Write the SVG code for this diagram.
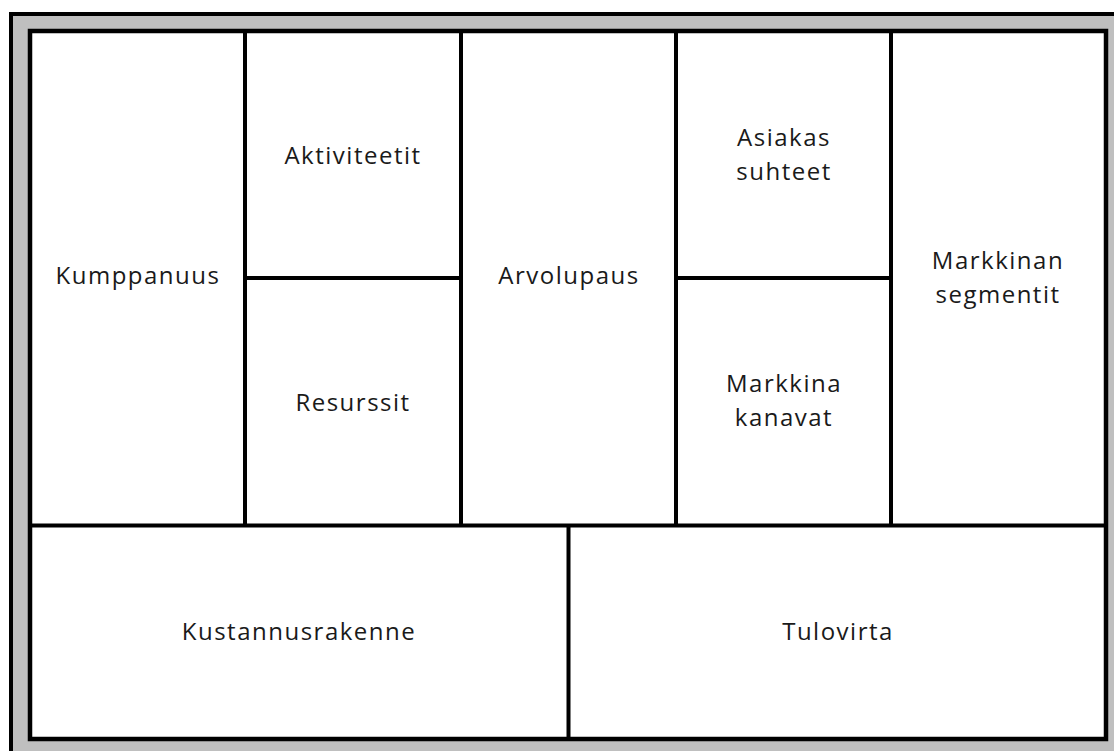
<svg xmlns="http://www.w3.org/2000/svg" width="1114" height="751" viewBox="0 0 1114 751">
<style>
.t{font-family:"Open Sans","Noto Sans",sans-serif;font-size:24px;letter-spacing:1.5px;fill:#1a1a1a;text-anchor:middle}
.l{stroke:#000;stroke-width:4;fill:none}
</style>
<rect x="0" y="0" width="1114" height="751" fill="#fff"/>
<rect x="11" y="14" width="1120" height="760" fill="#bfbfbf" stroke="#000" stroke-width="4"/>
<rect x="30" y="31" width="1076" height="708" fill="#fff" stroke="#000" stroke-width="4.5"/>
<g id="connectors" class="l">
<line x1="30" y1="525.5" x2="1106" y2="525.5"/>
<line x1="245" y1="31" x2="245" y2="525"/>
<line x1="461" y1="31" x2="461" y2="525"/>
<line x1="676" y1="31" x2="676" y2="525"/>
<line x1="891" y1="31" x2="891" y2="525"/>
<line x1="245" y1="278" x2="461" y2="278"/>
<line x1="676" y1="278" x2="891" y2="278"/>
<line x1="568.5" y1="525" x2="568.5" y2="739"/>
</g>
<g id="kumppanuus"><text class="t" x="138" y="284">Kumppanuus</text></g>
<g id="aktiviteetit"><text class="t" x="353" y="164">Aktiviteetit</text></g>
<g id="resurssit"><text class="t" x="353" y="411">Resurssit</text></g>
<g id="arvolupaus"><text class="t" x="569" y="284">Arvolupaus</text></g>
<g id="asiakassuhteet"><text class="t" x="784" y="146">Asiakas</text><text class="t" x="784" y="180">suhteet</text></g>
<g id="markkinakanavat"><text class="t" x="784" y="392">Markkina</text><text class="t" x="784" y="426">kanavat</text></g>
<g id="markkinansegmentit"><text class="t" x="998" y="269">Markkinan</text><text class="t" x="998" y="303">segmentit</text></g>
<g id="kustannusrakenne"><text class="t" x="299" y="640">Kustannusrakenne</text></g>
<g id="tulovirta"><text class="t" x="838" y="640">Tulovirta</text></g>
</svg>
